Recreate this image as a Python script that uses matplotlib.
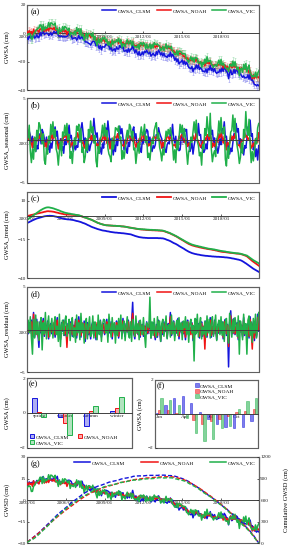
import numpy as np
import matplotlib
matplotlib.use('Agg')
import matplotlib.pyplot as plt
from matplotlib.colors import to_rgba

plt.rcParams['font.family'] = 'serif'
plt.rcParams['font.serif'] = ['Liberation Serif', 'DejaVu Serif']

# ---------------- data ----------------
models = ['GWSA_CLSM', 'GWSA_NOAH', 'GWSA_VIC']
start_year = 2003
n_months = 216
year_ticks = [2003, 2006, 2009, 2012, 2015, 2018]
year_tick_labels = ['2003/01', '2006/01', '2009/01', '2012/01', '2015/01', '2018/01']

trend_clsm = [
    -4.5, -4.2, -3.9, -3.5, -3.2, -2.8, -2.5, -2.2, -1.9, -1.6, -1.4, -1.2,
    -1.0, -0.8, -0.6, -0.4, -0.2, -0.1, 0.0, 0.1, 0.1, 0.2, 0.1, 0.1,
    0.0, -0.1, -0.3, -0.4, -0.6, -0.8, -1.0, -1.2, -1.4, -1.6, -1.7, -1.9,
    -2.0, -2.1, -2.2, -2.2, -2.3, -2.4, -2.5, -2.6, -2.8, -3.0, -3.2, -3.3,
    -3.5, -3.7, -3.9, -4.2, -4.5, -4.7, -5.0, -5.3, -5.7, -6.0, -6.3, -6.7,
    -7.0, -7.3, -7.5, -7.8, -8.0, -8.3, -8.5, -8.7, -8.9, -9.1, -9.3, -9.4,
    -9.5, -9.6, -9.8, -9.9, -10.0, -10.2, -10.3, -10.4, -10.5, -10.6, -10.7, -10.7,
    -10.8, -10.9, -10.9, -11.0, -11.1, -11.1, -11.2, -11.3, -11.4, -11.5, -11.6, -11.7,
    -11.8, -12.0, -12.3, -12.5, -12.8, -13.0, -13.2, -13.4, -13.6, -13.7, -13.8, -13.9,
    -14.0, -14.0, -14.1, -14.1, -14.2, -14.2, -14.2, -14.2, -14.2, -14.2, -14.2, -14.2,
    -14.2, -14.2, -14.3, -14.3, -14.3, -14.4, -14.4, -14.6, -14.8, -15.1, -15.4, -15.6,
    -15.9, -16.2, -16.6, -17.0, -17.4, -17.7, -18.0, -18.4, -18.8, -19.3, -19.7, -20.1,
    -20.5, -20.9, -21.3, -21.8, -22.2, -22.6, -23.0, -23.3, -23.6, -23.9, -24.1, -24.3,
    -24.5, -24.6, -24.8, -24.9, -25.0, -25.2, -25.3, -25.4, -25.5, -25.6, -25.7, -25.7,
    -25.8, -25.9, -25.9, -26.0, -26.1, -26.1, -26.2, -26.2, -26.3, -26.3, -26.3, -26.4,
    -26.4, -26.5, -26.5, -26.6, -26.7, -26.7, -26.8, -26.9, -27.0, -27.1, -27.3, -27.4,
    -27.5, -27.7, -27.8, -28.0, -28.1, -28.3, -28.5, -28.8, -29.2, -29.6, -30.1, -30.5,
    -31.0, -31.5, -32.0, -32.5, -33.0, -33.5, -34.0, -34.4, -34.8, -35.2, -35.6, -36.0]

trend_noah = [
    0.0, 0.2, 0.3, 0.5, 0.7, 0.8, 1.0, 1.2, 1.3, 1.5, 1.7, 1.8,
    2.0, 2.2, 2.3, 2.5, 2.7, 2.8, 3.0, 3.1, 3.1, 3.0, 3.0, 2.9,
    2.8, 2.7, 2.5, 2.3, 2.2, 2.0, 1.8, 1.7, 1.5, 1.4, 1.2, 1.1,
    1.0, 1.0, 0.9, 0.9, 0.9, 0.8, 0.8, 0.7, 0.7, 0.6, 0.5, 0.4,
    0.3, 0.1, -0.1, -0.3, -0.6, -0.8, -1.0, -1.2, -1.5, -1.7, -2.0, -2.2,
    -2.5, -2.8, -3.2, -3.5, -3.8, -4.2, -4.5, -4.7, -5.0, -5.2, -5.4, -5.6,
    -5.8, -5.9, -6.0, -6.0, -6.1, -6.1, -6.2, -6.2, -6.3, -6.3, -6.3, -6.4,
    -6.4, -6.5, -6.5, -6.6, -6.7, -6.7, -6.8, -6.9, -7.0, -7.1, -7.3, -7.4,
    -7.5, -7.6, -7.8, -7.9, -8.0, -8.2, -8.3, -8.4, -8.5, -8.6, -8.7, -8.7,
    -8.8, -8.8, -8.9, -9.0, -9.0, -9.1, -9.1, -9.1, -9.2, -9.2, -9.2, -9.3,
    -9.3, -9.3, -9.4, -9.4, -9.5, -9.5, -9.6, -9.8, -10.0, -10.3, -10.5, -10.8,
    -11.0, -11.3, -11.7, -12.0, -12.3, -12.7, -13.0, -13.4, -13.8, -14.3, -14.7, -15.1,
    -15.5, -15.9, -16.3, -16.8, -17.2, -17.6, -18.0, -18.3, -18.6, -18.9, -19.1, -19.3,
    -19.5, -19.7, -19.8, -20.0, -20.2, -20.3, -20.5, -20.6, -20.8, -20.9, -21.0, -21.2,
    -21.3, -21.4, -21.5, -21.6, -21.8, -21.9, -22.0, -22.2, -22.3, -22.5, -22.7, -22.8,
    -23.0, -23.1, -23.2, -23.2, -23.3, -23.4, -23.5, -23.6, -23.7, -23.8, -23.8, -23.9,
    -24.0, -24.1, -24.2, -24.3, -24.3, -24.4, -24.5, -24.7, -24.9, -25.2, -25.4, -25.7,
    -26.0, -26.6, -27.2, -27.8, -28.4, -29.0, -29.5, -30.0, -30.5, -31.0, -31.5, -32.0]

trend_vic = [
    -2.5, -2.0, -1.5, -1.0, -0.5, 0.0, 0.5, 1.0, 1.5, 2.0, 2.5, 3.0,
    3.5, 3.9, 4.3, 4.7, 5.0, 5.3, 5.5, 5.6, 5.6, 5.5, 5.3, 5.2,
    5.0, 4.8, 4.5, 4.3, 4.0, 3.8, 3.5, 3.2, 2.9, 2.7, 2.4, 2.2,
    2.0, 1.9, 1.7, 1.6, 1.5, 1.3, 1.2, 1.1, 1.0, 0.8, 0.7, 0.6,
    0.5, 0.3, 0.0, -0.2, -0.5, -0.8, -1.0, -1.2, -1.5, -1.7, -2.0, -2.2,
    -2.5, -2.8, -3.2, -3.5, -3.8, -4.2, -4.5, -4.7, -5.0, -5.2, -5.4, -5.6,
    -5.8, -5.9, -6.0, -6.0, -6.1, -6.1, -6.2, -6.2, -6.3, -6.3, -6.3, -6.4,
    -6.4, -6.5, -6.5, -6.6, -6.7, -6.7, -6.8, -6.9, -7.0, -7.2, -7.3, -7.5,
    -7.6, -7.7, -7.8, -7.9, -8.0, -8.1, -8.2, -8.3, -8.4, -8.4, -8.5, -8.5,
    -8.6, -8.6, -8.7, -8.7, -8.8, -8.8, -8.9, -8.9, -8.9, -9.0, -9.0, -9.0,
    -9.1, -9.1, -9.2, -9.2, -9.3, -9.3, -9.4, -9.6, -9.8, -10.1, -10.3, -10.6,
    -10.8, -11.1, -11.5, -11.8, -12.1, -12.5, -12.8, -13.2, -13.6, -14.0, -14.4, -14.8,
    -15.2, -15.6, -16.0, -16.4, -16.8, -17.1, -17.5, -17.8, -18.1, -18.4, -18.6, -18.8,
    -19.0, -19.2, -19.3, -19.5, -19.7, -19.8, -20.0, -20.2, -20.3, -20.5, -20.7, -20.8,
    -21.0, -21.1, -21.2, -21.3, -21.4, -21.5, -21.6, -21.8, -21.9, -22.1, -22.2, -22.4,
    -22.5, -22.6, -22.7, -22.8, -22.9, -23.1, -23.2, -23.3, -23.4, -23.5, -23.6, -23.7,
    -23.8, -23.9, -24.0, -24.0, -24.1, -24.2, -24.3, -24.5, -24.7, -24.9, -25.1, -25.3,
    -25.5, -26.0, -26.5, -27.0, -27.5, -28.0, -28.5, -28.9, -29.3, -29.7, -30.1, -30.5]

seasonal_clsm = [
    1.2, 0.4, 1.1, 0.6, -0.3, 0.5, -0.8, -0.2, -1.3, -0.6, -1.0, 0.3,
    0.8, -0.4, 1.3, 0.9, 0.2, -0.6, 0.4, -1.1, -0.5, -1.4, -0.3, -0.9,
    0.3, 0.9, 1.6, 0.5, 1.1, -0.4, -0.9, 0.2, -1.2, -0.7, -1.5, 0.1,
    -0.5, 1.2, 0.7, 1.8, 0.3, 0.6, -0.7, -1.3, -0.2, -1.1, -0.6, -0.8,
    0.6, 0.2, 1.4, 2.1, 0.9, -0.5, 0.3, -1.0, -1.4, -0.4, -1.2, -0.5,
    -0.2, 0.8, 2.6, 1.2, 0.4, 0.9, -0.6, -1.5, -0.8, -1.6, -0.4, -0.9,
    0.4, 1.5, 0.6, 2.3, 1.0, -0.7, 0.2, -0.9, -1.7, -0.5, -1.3, 0.2,
    -0.6, 0.9, 1.7, 0.8, 1.4, 0.3, -1.1, -0.4, -1.0, -1.5, -0.2, -0.7,
    0.5, 0.1, 1.2, 1.6, 0.2, 0.8, -0.5, -1.2, -0.3, -1.0, -1.4, 0.1,
    -0.3, 1.1, 0.8, 1.3, 1.1, -0.4, 0.4, -0.8, -1.3, -0.6, -0.9, -0.5,
    0.7, 0.3, 1.5, 0.9, 0.5, 0.2, -0.9, -0.3, -1.1, -1.4, -0.5, -0.2,
    -0.4, 1.0, 0.6, 1.9, 0.3, -0.3, 0.5, -1.0, -0.6, -1.2, -1.1, 0.3,
    0.9, -0.2, 1.4, 1.1, 1.3, -0.6, -0.2, -1.3, -0.9, -0.3, -1.6, -0.6,
    0.1, 1.2, 0.5, 2.0, 0.6, 0.7, -0.9, -0.5, -1.4, -1.1, -0.4, -1.0,
    0.6, 0.4, 1.8, 0.7, 1.2, -0.2, 0.3, -1.2, -0.7, -1.5, -0.8, 0.2,
    -0.5, 1.4, 0.9, 2.2, 0.4, 0.5, -1.0, -0.6, -1.6, -0.9, -1.3, -0.3,
    0.8, 0.3, 2.0, 1.0, 1.4, -0.5, 0.2, -1.4, -0.8, -1.7, -0.6, -0.9,
    0.2, 1.6, 0.8, 2.4, 0.5, 0.8, -1.1, -0.4, -1.9, -1.0, -2.3, -0.6]

seasonal_noah = [
    0.8, 0.1, 0.9, -0.2, -0.3, -0.9, 0.2, -0.6, 0.3, -0.1, 0.7, 0.2,
    0.5, 0.9, -0.1, 0.4, -0.7, -0.3, -0.9, 0.1, -0.4, 0.5, 0.1, 0.8,
    0.2, 0.6, 0.5, -0.4, -0.1, -1.0, -0.4, -0.5, 0.2, -0.2, 0.6, 0.4,
    0.7, 0.2, -0.2, 0.5, -0.8, -0.5, -0.2, -0.7, -0.1, 0.4, 0.3, 0.9,
    0.3, 0.8, 0.3, -0.3, -0.2, -0.9, -0.6, 0.0, -0.5, 0.2, 0.8, 0.1,
    0.6, 0.0, 0.6, 0.1, -0.6, -0.4, -0.8, -0.4, 0.3, -0.1, 0.2, 0.7,
    0.1, 0.7, -0.3, 0.3, -0.4, -1.0, -0.1, -0.6, -0.2, 0.5, 0.4, 0.3,
    0.8, 0.3, 0.4, -0.2, -0.5, -0.6, -0.7, 0.1, -0.4, 0.0, 0.6, 0.5,
    0.2, 0.5, -0.1, 0.4, -0.3, -0.8, -0.3, -0.5, 0.2, 0.3, -0.1, 0.8,
    0.6, 0.1, 0.5, -0.3, -0.7, -0.4, -0.6, -0.2, -0.3, 0.4, 0.5, 0.2,
    0.4, 0.6, 0.0, 0.2, -0.2, -0.9, -0.2, -0.7, 0.1, -0.1, 0.7, 0.4,
    0.1, 0.4, 0.3, -0.4, -0.6, -0.5, -0.8, 0.0, -0.2, 0.5, 0.2, 0.6,
    0.7, 0.2, -0.2, 0.3, -0.4, -0.7, -0.3, -0.6, 0.0, 0.2, 0.6, 0.1,
    0.3, 0.9, 0.2, -0.1, -0.5, -0.8, -0.5, -0.1, -0.4, 0.3, 0.1, 0.7,
    0.5, 0.0, 0.6, 0.2, -0.8, -0.3, -0.7, -0.4, 0.2, -0.2, 0.8, 0.3,
    0.9, 0.4, -0.3, 0.5, -0.3, -1.1, -0.2, -0.5, -0.3, 0.6, 0.0, 0.5,
    0.2, 0.8, 0.4, -0.4, -0.6, -0.5, -0.9, 0.1, -0.1, 0.1, 0.9, 0.4,
    0.6, 0.1, 0.3, 0.2, -0.9, -0.7, -0.3, -0.8, 0.2, 0.3, -0.2, 0.9]

seasonal_vic = [
    1.5, 0.3, 1.8, -1.2, -2.6, -1.0, -2.2, 0.4, -1.3, 1.2, 0.2, 2.1,
    1.8, 0.6, -0.4, 0.8, -2.3, -2.8, -0.9, -1.6, 0.5, -0.3, 1.9, 0.7,
    2.2, 0.4, 1.3, -1.0, -1.5, -2.9, -1.2, -0.1, -1.8, 1.0, 0.5, 1.8,
    0.6, 2.0, 0.1, 0.7, -2.1, -1.3, -2.7, -0.8, 0.3, -0.5, 1.7, 1.2,
    1.9, -0.2, 1.4, -1.4, -0.8, -2.6, -1.9, 0.2, -1.2, 1.3, 0.4, 2.3,
    0.9, 1.6, -0.3, 0.6, -2.4, -3.1, -0.7, -1.5, 0.1, 0.6, 1.8, 0.5,
    2.0, 0.5, 1.2, -0.9, -1.6, -1.9, -2.5, 0.3, -1.0, -0.2, 1.5, 1.4,
    1.1, 1.7, 0.2, 0.4, -2.2, -1.2, -2.1, -1.1, 0.4, 1.2, 0.3, 1.9,
    1.6, 0.3, 1.1, -1.1, -0.9, -2.7, -1.4, -0.3, -1.5, 0.7, 1.6, 0.6,
    0.8, 1.9, -0.2, 0.5, -2.0, -1.5, -2.3, -0.9, 0.2, -0.4, 1.2, 1.7,
    2.1, 0.2, 0.9, -0.8, -1.4, -2.4, -1.0, -1.7, -0.2, 1.1, 0.5, 1.3,
    0.7, 1.5, 0.6, -0.5, -2.3, -1.1, -2.6, 0.0, -1.1, 0.3, 1.9, 0.9,
    1.8, 0.4, 1.4, 0.3, -1.2, -2.8, -1.3, -1.0, 0.4, -0.2, 1.0, 2.2,
    0.9, 2.4, -0.1, -0.6, -1.8, -1.4, -2.9, -0.5, -1.0, 1.4, 0.6, 2.8,
    1.3, 0.5, 3.2, -1.0, -2.5, -1.6, -1.2, -1.9, 0.1, 0.6, 2.3, 0.8,
    2.7, 0.9, 0.8, 1.6, -2.2, -3.0, -0.8, -2.1, -0.4, 1.0, 1.2, 3.0,
    1.0, 2.6, 0.3, -0.7, -1.4, -2.7, -2.0, -0.3, -1.5, 1.3, 0.4, 3.4,
    1.2, 0.6, 2.5, -0.5, -2.6, -1.3, -2.4, -1.2, 0.2, -0.4, 1.5, 2.0]

residual_clsm = [
    0.3, -0.5, 0.8, -0.2, 1.1, -0.6, 2.0, -0.9, 0.4, 1.2, -0.3, -2.1,
    0.9, -0.4, 0.2, 1.3, -0.8, 0.5, -0.2, 1.0, -1.1, 0.3, 0.7, -0.5,
    -0.3, 0.6, -0.9, 0.4, 1.4, -0.6, 0.1, -1.2, 0.8, -0.2, 1.1, -0.7,
    0.2, -1.3, 0.7, -0.4, 0.9, 0.1, -0.8, 0.5, -0.3, 1.2, -1.0, 0.4,
    1.5, -0.2, -0.9, 0.6, -0.4, 1.0, -1.4, 0.3, 0.8, -0.6, 0.2, -1.1,
    0.5, 0.9, -0.7, 0.2, -1.2, 0.6, 0.3, -0.5, 1.1, -0.9, 0.4, 0.7,
    -0.6, 0.3, 1.2, -0.8, 0.1, -0.4, 0.9, -1.1, 0.5, 0.2, -0.7, 1.0,
    0.4, -1.0, 0.6, 0.3, -0.5, 1.3, -0.2, -0.8, 0.7, -0.3, 1.1, -0.6,
    0.2, 0.8, 3.2, -0.4, -1.1, 0.5, 0.1, -0.6, 1.0, -0.9, 0.3, 0.6,
    -0.8, 0.4, -0.2, 0.9, -0.5, 0.2, 0.7, -1.0, 0.4, 0.8, -0.3, -1.2,
    0.6, -0.9, 1.1, 0.2, -1.4, 0.5, -0.6, 0.9, -0.2, 0.3, -1.0, 0.7,
    0.1, 2.0, -0.7, 0.4, 1.0, -0.8, 0.2, -0.4, 1.3, -1.1, 0.5, -0.3,
    0.9, -0.5, 0.3, -1.2, 0.6, 1.1, -0.7, 0.2, -0.4, 0.8, -1.3, 0.4,
    -0.6, 1.2, -0.3, 0.7, -1.0, 0.4, 0.9, -0.8, 0.3, -0.5, 1.0, -0.9,
    0.5, -0.2, 1.4, -0.9, 0.3, -0.6, 1.1, 0.2, -1.2, 0.6, -0.4, 0.8,
    -0.3, 0.9, -1.1, 0.5, 1.2, -0.7, 0.6, -4.4, 0.8, 2.2, -0.4, -0.5,
    1.3, -0.6, 0.2, 0.8, -1.2, 1.0, -0.3, 0.5, -0.9, 1.4, -0.7, 0.3,
    -0.4, 0.7, -1.0, 1.5, -0.5, 0.2, 0.9, -1.3, 0.6, -0.8, 1.8, -0.2]

residual_noah = [
    0.5, -0.3, 0.6, 0.1, 0.9, -0.8, 1.8, -0.6, 0.2, 0.9, -0.5, -1.2,
    0.7, -0.2, 0.4, 1.0, -0.6, 0.3, -0.4, 0.8, -0.9, 0.5, 0.4, -0.3,
    -0.2, 0.8, -0.6, 0.3, 1.1, -0.4, 0.3, -1.0, 0.6, -0.1, 0.9, -0.5,
    0.4, -2.1, 0.5, -0.2, 0.7, 0.3, -0.6, 0.4, -0.5, 1.0, -0.7, 0.2,
    1.1, -0.1, -0.7, 0.8, -0.3, 0.7, -1.0, 0.5, 0.6, -0.4, 0.3, -0.8,
    0.3, 0.7, -0.5, 0.4, -0.9, 0.8, 0.1, -0.3, 0.9, -0.7, 0.6, 0.5,
    -0.4, 0.5, 0.9, -0.6, 0.3, -0.2, 0.7, -0.8, 0.4, 0.3, -0.5, 0.8,
    0.6, -0.8, 0.4, 0.5, -0.3, 1.0, -0.1, -0.6, 0.5, -0.2, 0.9, -0.4,
    0.1, 0.6, 1.9, -0.3, -0.8, 0.4, 0.2, -0.5, 0.8, -0.7, 0.5, 0.4,
    -0.6, 0.3, -0.1, 0.7, -0.4, 0.4, 1.2, -0.8, 0.3, 0.6, -0.2, -0.9,
    0.4, -0.7, 0.9, 0.3, -1.0, 0.6, -0.4, 0.7, -0.1, 0.4, -0.8, 0.5,
    0.2, 1.5, -0.5, 0.3, 0.8, -0.6, 0.3, -0.3, 1.0, -0.8, 0.6, -0.2,
    0.7, -0.4, 0.5, -0.9, 0.4, 0.9, -0.5, 0.3, -0.6, 0.7, -1.0, 0.3,
    -0.4, 1.0, -0.2, 0.5, -0.8, 0.3, 0.7, -0.6, 0.4, -2.3, 0.8, -0.7,
    0.4, -0.1, 1.1, -0.7, 0.4, -0.5, 0.9, 0.3, -0.9, 0.5, -0.3, 0.6,
    -0.2, 0.7, -0.9, 0.4, 1.0, -0.5, 0.5, -2.0, 0.6, 1.6, -0.3, -0.4,
    1.0, -0.5, 0.3, 0.6, -1.0, 0.8, -0.2, 0.4, -0.7, 1.1, -0.5, 0.2,
    -0.3, 0.5, -0.8, 1.2, -0.4, -2.3, 0.7, -1.0, 0.5, -0.6, 1.4, -0.1]

residual_vic = [
    -0.2, 1.1, -0.4, 1.5, -0.9, -2.9, 1.2, -1.0, 1.7, -0.6, 0.9, -1.3,
    0.6, 1.4, -2.4, 0.8, -0.5, 2.0, -1.1, 0.4, 1.6, -0.8, 0.2, 1.3,
    -1.0, 0.7, 1.5, -0.6, 0.4, -1.4, 1.8, -2.0, 0.5, 1.1, -0.7, 0.9,
    1.6, -0.8, 0.3, 1.2, -1.3, 0.6, 1.4, -0.9, 0.2, -1.5, 1.7, -0.4,
    0.8, -1.2, 1.9, -0.3, 0.7, -1.6, 0.5, 1.3, -1.1, 0.4, 1.5, -0.8,
    -0.5, 1.6, -1.0, 0.9, 0.3, -1.2, 1.7, -0.6, 1.0, -1.4, 0.6, 1.2,
    1.1, -0.4, 0.6, -1.5, 1.8, 0.2, -0.9, 1.4, -0.3, 0.8, -1.6, 0.5,
    -0.7, 1.3, -0.2, 1.7, -1.1, 0.6, 1.0, -1.3, 0.4, 1.5, -0.5, -1.0,
    0.9, -1.4, 1.2, 0.3, -0.8, 1.6, -0.4, 0.7, -1.2, 1.1, 0.2, -0.6,
    1.4, -0.6, -2.1, 0.8, 0.5, 0.2, 3.8, -1.0, 0.9, -0.7, 1.3, -0.3,
    -0.9, 1.5, -0.3, 1.0, -1.4, 0.7, 1.2, -0.8, 0.3, 1.6, -1.1, 0.4,
    0.6, -0.9, 1.7, -0.5, 0.9, -1.3, 0.4, 1.1, -0.7, 1.4, -0.2, 0.8,
    -1.2, 1.0, 0.2, 1.5, -0.6, 0.9, -1.5, 0.7, 1.2, -0.4, 0.5, -3.7,
    1.3, -0.5, 1.8, -0.9, 0.6, 1.4, -1.1, 0.3, -0.6, 1.0, -0.9, 1.6,
    -0.4, 1.2, -1.0, 0.7, 1.5, -0.8, 0.4, 1.7, -1.3, 0.5, 1.1, -0.6,
    1.5, -0.7, 0.9, -1.4, 0.8, 1.3, -0.5, -1.6, 1.9, 0.4, -0.9, 1.2,
    -0.3, 1.4, 0.5, -0.8, 1.6, -2.9, 1.0, 0.3, -1.2, 1.8, -0.5, 0.7,
    -2.9, 1.1, 1.6, -0.7, 0.9, -1.5, 1.3, -0.4, 1.8, -1.0, 0.6, 2.0]

err_clsm = 2.6
err_noah = 2.4
err_vic = 2.6

season_names = ['spring', 'summer', 'autumn', 'winter']
season_clsm = [0.86, -0.25, -0.76, 0.10]
season_noah = [0.03, -0.60, 0.13, 0.29]
season_vic = [-0.25, -1.24, 0.42, 0.91]

month_names = ['Jan', 'Feb', 'Mar', 'Apr', 'May', 'Jun',
               'Jul', 'Aug', 'Sep', 'Oct', 'Nov', 'Dec']
month_tick_labels = ['Jan', 'Apr', 'Jul', 'Oct']
monthly_clsm = [0.05, 0.50, 0.95, 1.05, 0.65, 0.10, -0.30, -0.60, -0.75, -0.85, -0.75, -0.40]
monthly_noah = [0.25, 0.25, 0.05, 0.02, -0.35, -0.60, -0.40, -0.30, -0.10, 0.10, 0.20, 0.30]
monthly_vic = [0.95, 0.85, 0.50, -0.25, -1.10, -1.60, -1.50, -0.80, -0.70, 0.30, 0.75, 0.95]

# ---------------- derived series ----------------
t = start_year + np.arange(n_months) / 12.0
trend = [np.array(trend_clsm), np.array(trend_noah), np.array(trend_vic)]
seasonal = [np.array(seasonal_clsm), np.array(seasonal_noah), np.array(seasonal_vic)]
residual = [np.array(residual_clsm), np.array(residual_noah), np.array(residual_vic)]
gwsa = [trend[i] + seasonal[i] + residual[i] for i in range(3)]
errs = [err_clsm, err_noah, err_vic]
gwsd = [g - g.mean() for g in gwsa]
cum_gwsd = [np.cumsum(g) for g in gwsd]

# ---------------- style ----------------
colors = ['#1414dc', '#f01414', '#20b04a']
frame_color = '#606060'
fs_tick = 3.8
fs_leg = 3.9
fs_lab = 4.6
fs_panel = 6.0
lw_line = 1.1

fig = plt.figure(figsize=(2.88, 5.5), dpi=100)


def style_axes(ax, ylim, yticks, ylabel, panel, label_x=-0.075):
    ax.set_ylim(*ylim)
    ax.set_yticks(yticks)
    for s in ['left', 'right', 'top']:
        ax.spines[s].set_color(frame_color)
        ax.spines[s].set_linewidth(0.8)
    ax.spines['bottom'].set_position(('data', 0))
    ax.spines['bottom'].set_color('#404040')
    ax.spines['bottom'].set_linewidth(0.7)
    ax.patch.set_edgecolor(frame_color)
    ax.patch.set_linewidth(0.8)
    ax.set_axisbelow(True)
    ax.tick_params(axis='both', labelsize=fs_tick, length=1.5, width=0.5,
                   pad=1.0, direction='in', colors='#202020')
    ax.set_ylabel(ylabel, fontsize=fs_lab, labelpad=1)
    ax.yaxis.set_label_coords(label_x, 0.5)
    ax.text(0.015, 0.965, panel, transform=ax.transAxes, fontsize=fs_panel,
            va='top', ha='left')


def time_axes(ax):
    ax.set_xlim(2003.0, 2020.93)
    ax.set_xticks(year_ticks)
    ax.set_xticklabels(year_tick_labels)


def ts_legend(ax, spacing=1.0):
    ax.legend(loc='upper right', ncol=3, frameon=False, fontsize=fs_leg,
              handlelength=2.6, handletextpad=0.3, columnspacing=spacing,
              borderaxespad=0.25)


L, W = 0.094, 0.805

# (a)
ax_a = fig.add_axes([L, 0.836, W, 0.155])
for i in range(3):
    ax_a.errorbar(t, gwsa[i], yerr=errs[i], fmt='none', ecolor=colors[i],
                  alpha=0.28, elinewidth=0.6, capsize=0.9, capthick=0.5, zorder=1)
for i in range(3):
    ax_a.plot(t, gwsa[i], color=colors[i], lw=lw_line, label=models[i], zorder=3)
time_axes(ax_a)
style_axes(ax_a, (-40, 20), [-40, -20, 0, 20], 'GWSA (cm)', '(a)')
ts_legend(ax_a)

# (b)
ax_b = fig.add_axes([L, 0.6673, W, 0.1545])
for i in range(3):
    ax_b.plot(t, seasonal[i], color=colors[i], lw=lw_line, label=models[i])
time_axes(ax_b)
style_axes(ax_b, (-5, 5), [-5, 5], 'GWSA_seasonal (cm)', '(b)')
ts_legend(ax_b)

# (c)
ax_c = fig.add_axes([L, 0.4945, W, 0.1564])
for i in range(3):
    ax_c.plot(t, trend[i], color=colors[i], lw=1.3, label=models[i])
time_axes(ax_c)
style_axes(ax_c, (-40, 15.5), [-40, -15, 10], 'GWSA_trend (cm)', '(c)')
ts_legend(ax_c)

# (d)
ax_d = fig.add_axes([L, 0.3236, W, 0.1546])
for i in range(3):
    ax_d.plot(t, residual[i], color=colors[i], lw=lw_line, label=models[i])
time_axes(ax_d)
style_axes(ax_d, (-5, 5), [-5, 5], 'GWSA_residual (cm)', '(d)')
ts_legend(ax_d)

# (e)
ax_e = fig.add_axes([L, 0.1855, 0.3646, 0.1272])
xs = np.arange(len(season_names))
wb = 0.19
bars_e = []
for k, vals in enumerate([season_clsm, season_noah, season_vic]):
    b = ax_e.bar(xs + (k - 1) * wb, vals, wb, facecolor=to_rgba(colors[k], 0.35),
                 edgecolor=colors[k], linewidth=0.7, label=models[k])
    bars_e.append(b)
ax_e.set_xlim(-0.46, 3.58)
ax_e.set_xticks(xs)
ax_e.set_xticklabels(season_names)
style_axes(ax_e, (-2, 2), [-2, 0, 2], 'GWSA (cm)', '(e)', label_x=-0.165)
ax_e.tick_params(axis='x', length=0)
ax_e.legend([bars_e[0], bars_e[2], bars_e[1]],
            [models[0], models[2], models[1]], loc='lower left', ncol=2,
            frameon=False, fontsize=fs_leg, handlelength=0.8, handleheight=0.8,
            handletextpad=0.3, columnspacing=1.6, borderaxespad=0.1,
            labelspacing=0.2)

# (f)
ax_f = fig.add_axes([0.538, 0.1855, 0.358, 0.1236])
xm = np.arange(len(month_names))
wm = 0.27
bars_f = []
for k, vals in enumerate([monthly_clsm, monthly_noah, monthly_vic]):
    b = ax_f.bar(xm + (k - 1) * wm, vals, wm, facecolor=to_rgba(colors[k], 0.55),
                 edgecolor=to_rgba(colors[k], 0.8), linewidth=0.4, label=models[k])
    bars_f.append(b)
ax_f.set_xlim(-0.5, 11.5)
ax_f.set_xticks([0, 3, 6, 9])
ax_f.set_xticklabels(month_tick_labels)
style_axes(ax_f, (-2, 2), [-2, 2], 'GWSA (cm)', '(f)', label_x=-0.12)
ax_f.tick_params(axis='x', length=0)
ax_f.legend(loc='upper center', bbox_to_anchor=(0.58, 1.0), ncol=1,
            frameon=False, fontsize=fs_leg, handlelength=0.7, handleheight=0.7,
            handletextpad=0.2, borderaxespad=0.2, labelspacing=0.15)

# (g)
ax_g = fig.add_axes([L, 0.0127, W, 0.1564])
ax_g2 = ax_g.twinx()
for i in range(3):
    ax_g.plot(t, gwsd[i], color=colors[i], lw=lw_line, label=models[i], zorder=3)
for i in range(3):
    ax_g2.plot(t, cum_gwsd[i], color=colors[i], lw=1.0, ls=(0, (3.0, 1.5)))
time_axes(ax_g)
style_axes(ax_g, (-30, 30), [-30, -15, 0, 15, 30], 'GWSD (cm)', '(g)')
ax_g2.set_ylim(0, 1200)
ax_g2.set_yticks([0, 300, 600, 900, 1200])
ax_g2.tick_params(axis='y', labelsize=fs_tick, length=1.5, width=0.5, pad=1.0,
                  direction='in', colors='#202020')
for s in ['left', 'top', 'bottom']:
    ax_g2.spines[s].set_visible(False)
ax_g2.spines['right'].set_color(frame_color)
ax_g2.spines['right'].set_linewidth(0.8)
ax_g2.set_ylabel('Cumulative GWSD (cm)', fontsize=fs_lab, labelpad=1)
ax_g2.yaxis.set_label_coords(1.105, 0.5)
ax_g.legend(loc='upper right', ncol=3, frameon=False, fontsize=fs_leg,
            handlelength=3.0, handletextpad=0.3, columnspacing=3.0,
            borderaxespad=0.25)

fig.savefig('out.png', dpi=100)
